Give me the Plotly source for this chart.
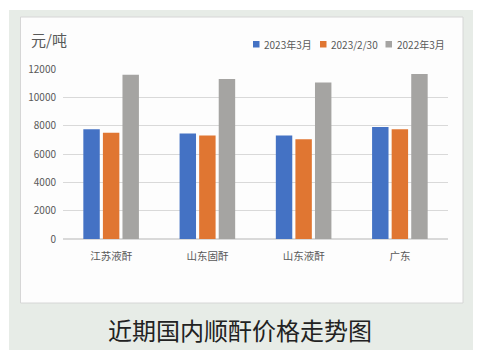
import plotly.graph_objects as go

categories = ["江苏液酐", "山东固酐", "山东液酐", "广东"]
series_names = ["2023年3月", "2023/2/30", "2022年3月"]
values_2023_03 = [7750, 7450, 7300, 7900]
values_2023_02 = [7500, 7300, 7050, 7750]
values_2022_03 = [11600, 11300, 11050, 11650]
tick_vals = [0, 2000, 4000, 6000, 8000, 10000, 12000]
tick_text = ["0", "2000", "4000", "6000", "8000", "10000", "12000"]
colors = ["#4472C4", "#E07632", "#A5A4A2"]

OFF = 8  # default page body margin
W, H = 481 - OFF, 357 - OFF
L, R, T, B = 63, 448, 69, 239  # plot area in page px


def px_x(px):
    return (px - L) / (R - L)


def px_y(py):
    return (B - py) / (B - T)


fig = go.Figure()
for name, vals, col in zip(series_names, [values_2023_03, values_2023_02, values_2022_03], colors):
    fig.add_trace(go.Bar(x=categories, y=vals, name=name, marker=dict(color=col, line=dict(width=0))))

font_family = "Noto Sans CJK SC, Noto Sans, sans-serif"

# legend drawn by hand: small square + label
legend_sq_x = [253, 320, 385.5]
legend_txt_x = [262, 329, 394.5]
legend_y = 44
shapes = [
    dict(type="rect", xref="paper", yref="paper", x0=px_x(9), x1=px_x(475), y0=px_y(350), y1=px_y(10),
         fillcolor="#e7ece7", line=dict(width=0), layer="below"),
    dict(type="rect", xref="paper", yref="paper", x0=px_x(20.5), x1=px_x(463), y0=px_y(303), y1=px_y(17),
         fillcolor="#fdfdfd", line=dict(width=1, color="#d6d6d6"), layer="below"),
]
annotations = [
    dict(text="元/吨", xref="paper", yref="paper", x=px_x(29), y=px_y(40), xanchor="left", yanchor="middle",
         showarrow=False, font=dict(size=15, color="#595959", family=font_family)),
    dict(text="近期国内顺酐价格走势图", xref="paper", yref="paper", x=px_x(240), y=px_y(329),
         xanchor="center", yanchor="middle", showarrow=False,
         font=dict(size=24, color="#222222", family=font_family)),
]
for name, col, sx, tx in zip(series_names, colors, legend_sq_x, legend_txt_x):
    shapes.append(dict(type="rect", xref="paper", yref="paper", x0=px_x(sx), x1=px_x(sx + 6.5),
                       y0=px_y(legend_y + 3.5), y1=px_y(legend_y - 3), fillcolor=col, line=dict(width=0)))
    annotations.append(dict(text=name, xref="paper", yref="paper", x=px_x(tx), y=px_y(legend_y),
                            xanchor="left", yanchor="middle", showarrow=False,
                            font=dict(size=10, color="#595959", family=font_family)))

fig.update_layout(
    width=W, height=H,
    margin=dict(l=L - OFF, r=W - (R - OFF), t=T - OFF, b=H - (B - OFF), pad=0, autoexpand=False),
    paper_bgcolor="white",
    plot_bgcolor="rgba(0,0,0,0)",
    barmode="group",
    bargap=0.39,
    bargroupgap=0.16,
    font=dict(family=font_family, size=10, color="#595959"),
    showlegend=False,
    xaxis=dict(showgrid=False, showline=False, ticks="", ticklabelstandoff=9,
               tickfont=dict(size=10.5, color="#595959")),
    yaxis=dict(range=[0, 12000], tickvals=tick_vals, ticktext=tick_text, showgrid=True, gridcolor="#d9d9d9",
               gridwidth=1, zeroline=True, zerolinecolor="#d9d9d9", showline=False,
               ticks="", ticklabelstandoff=6, tickfont=dict(size=10, color="#595959")),
    shapes=shapes,
    annotations=annotations,
)

fig.write_html("out.html")
